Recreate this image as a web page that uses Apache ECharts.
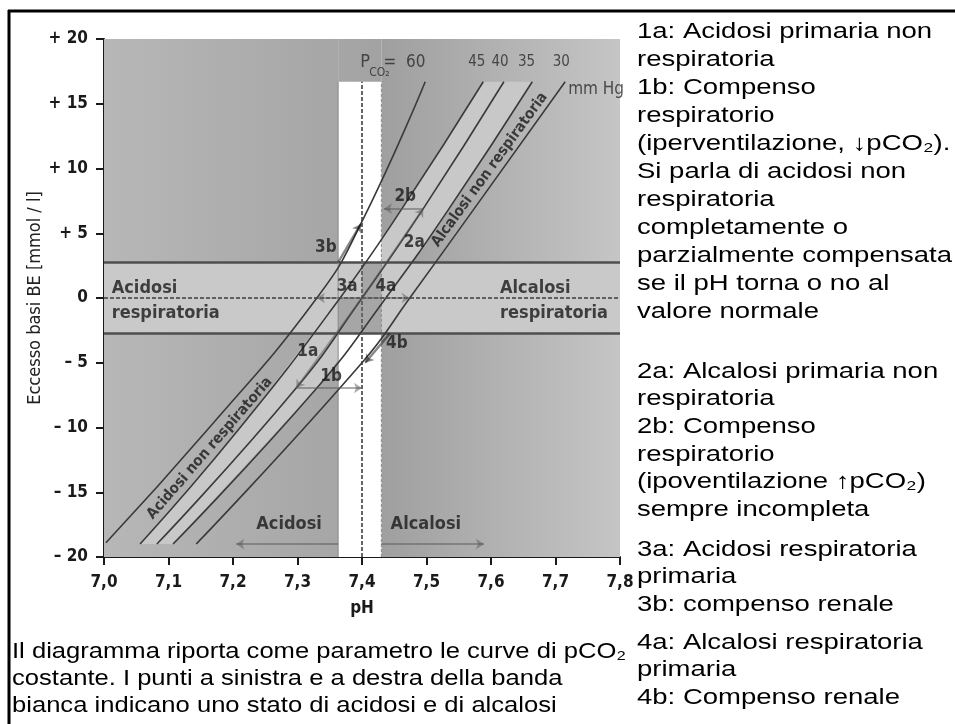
<!DOCTYPE html>
<html>
<head>
<meta charset="utf-8">
<title>Eccesso basi - pH</title>
<script src="https://cdn.jsdelivr.net/npm/echarts@6/dist/echarts.min.js"></script>
<style>
  html, body { margin: 0; padding: 0; background: #fff; }
  #chart { width: 955px; height: 724px; }
</style>
</head>
<body>
<div id="chart"></div>
<script>
// pCO2 isobars, [pH, BE mmol/l]
const pco2_60 = [[7.003, -18.9], [7.160, -10.2], [7.330, 0], [7.397, 5.6], [7.498, 16.7]];
const pco2_45 = [[7.056, -19.0], [7.208, -10.2], [7.366, 0], [7.462, 6.9], [7.588, 16.7]];
const pco2_40 = [[7.082, -19.0], [7.298, -6.95], [7.400, 0], [7.495, 6.9], [7.620, 16.7]];
const pco2_35 = [[7.107, -19.0], [7.330, -6.95], [7.437, 0], [7.535, 6.9], [7.664, 16.7]];
const pco2_30 = [[7.143, -19.0], [7.400, -5.0], [7.474, 0], [7.574, 6.9], [7.715, 16.7]];

// zones
const whiteBand = [7.363, 7.43];     // pH limits of the white band
const whiteBandTop = 16.7;
const beBand = [-2.75, 2.75];        // normal base excess band
const phNormal = 7.4;

// tick labels
const xTickLabels = ['7,0', '7,1', '7,2', '7,3', '7,4', '7,5', '7,6', '7,7', '7,8'];
const yTickLabels = ['\u2013 20', '\u2013 15', '\u2013 10', '\u2013 5', '0', '+ 5', '+ 10', '+ 15', '+ 20'];

// arrows: from, to, dark
const arrows = [
  [[7.400, 0], [7.330, 0], false],          // 3a
  [[7.400, 0], [7.474, 0], false],          // 4a
  [[7.400, 0], [7.298, -6.95], false],      // 1a
  [[7.298, -6.95], [7.400, -6.95], false],  // 1b
  [[7.400, 0], [7.495, 6.9], false],        // 2a
  [[7.495, 6.9], [7.434, 6.9], false],      // 2b
  [[7.363, 2.75], [7.398, 5.7], true],      // 3b
  [[7.443, -2.75], [7.405, -5.0], true],    // 4b
  [[7.363, -19.0], [7.205, -19.0], false],  // Acidosi
  [[7.430, -19.0], [7.589, -19.0], false]   // Alcalosi
];

// labels in the plot: [pH, BE, text]
const stepLabels = [
  [7.467, 7.8, '2b'], [7.481, 4.3, '2a'], [7.344, 3.9, '3b'], [7.377, 0.85, '3a'],
  [7.437, 0.85, '4a'], [7.454, -3.55, '4b'], [7.316, -4.1, '1a'], [7.352, -6.1, '1b']
];
const zoneLabels = [
  [7.012, 0.77, 'Acidosi'], [7.012, -1.16, 'respiratoria'],
  [7.614, 0.77, 'Alcalosi'], [7.614, -1.16, 'respiratoria']
];
const bottomLabels = [[7.287, -17.5, 'Acidosi'], [7.499, -17.5, 'Alcalosi']];
const isoLabels = [[7.578, 18.2, '45'], [7.614, 18.2, '40'], [7.655, 18.2, '35'], [7.709, 18.2, '30']];
const slantLabels = [[7.598, 9.9, 'Alcalosi non respiratoria', 54], [7.164, -11.6, 'Acidosi non respiratoria', 49]];

const noteBlocks = [
  { top: 18, lh: 28, lines: ['1a: Acidosi primaria non', 'respiratoria', '1b: Compenso', 'respiratorio',
    '(iperventilazione, \u2193pCO\u2082).', 'Si parla di acidosi non', 'respiratoria', 'completamente o',
    'parzialmente compensata', 'se il pH torna o no al', 'valore normale'] },
  { top: 358, lh: 27.6, lines: ['2a: Alcalosi primaria non', 'respiratoria', '2b: Compenso', 'respiratorio',
    '(ipoventilazione \u2191pCO\u2082)', 'sempre incompleta'] },
  { top: 536, lh: 27.5, lines: ['3a: Acidosi respiratoria', 'primaria', '3b: compenso renale'] },
  { top: 629, lh: 27.5, lines: ['4a: Alcalosi respiratoria', 'primaria', '4b: Compenso renale'] }
];
const captionLines = ['Il diagramma riporta come parametro le curve di pCO\u2082',
  'costante. I punti a sinistra e a destra della banda',
  'bianca indicano uno stato di acidosi e di alcalosi'];

const CF = "'Liberation Sans Narrow', 'DejaVu Sans Condensed', 'Roboto Condensed', Roboto, sans-serif";
const TF = "'Liberation Sans', Arial, sans-serif";
const textFont = '22px ' + TF;

function measure(str, font) {
  const ctx = document.createElement('canvas').getContext('2d');
  ctx.font = font;
  return ctx.measureText(str).width;
}
const sx = 315 / measure('parzialmente compensata', textFont);

const chart = echarts.init(document.getElementById('chart'));

function grad(c0, c1) {
  return new echarts.graphic.LinearGradient(0, 0, 1, 0, [{ offset: 0, color: c0 }, { offset: 1, color: c1 }]);
}

function renderFills(params, api) {
  const rect = (x0, y0, x1, y1, fill) => {
    const a = api.coord([x0, y1]), b = api.coord([x1, y0]);
    return { type: 'rect', shape: { x: a[0], y: a[1], width: b[0] - a[0], height: b[1] - a[1] }, style: { fill } };
  };
  const strip = pco2_45.concat(pco2_35.slice().reverse()).map(p => api.coord(p));
  return {
    type: 'group',
    children: [
      rect(7.0, -20, whiteBand[0], 20, grad('#b7b7b7', '#a6a6a6')),
      rect(whiteBand[0], -20, whiteBand[1], 20, grad('#a6a6a6', '#a2a2a2')),
      rect(whiteBand[1], -20, 7.8, 20, grad('#9f9f9f', '#c5c5c5')),
      { type: 'polygon', shape: { points: strip }, style: { fill: '#c8c8c8' } },
      rect(7.0, beBand[0], 7.8, beBand[1], '#c9c9c9'),
      rect(whiteBand[0], beBand[1], whiteBand[1], whiteBandTop, '#ffffff'),
      rect(whiteBand[0], -20, whiteBand[1], beBand[0], '#ffffff'),
      rect(phNormal, beBand[0], whiteBand[1], beBand[1], '#a6a6a6'),
      rect(whiteBand[0], beBand[0], phNormal, 0, '#a6a6a6')
    ]
  };
}

function refLine(points, color, width, type) {
  return { type: 'line', data: points, symbol: 'none', silent: true, z: 6,
    lineStyle: { color, width, type: type || 'solid' } };
}

function isoLine(points) {
  return { type: 'line', data: points, symbol: 'none', smooth: 0.5, silent: true, z: 7,
    lineStyle: { color: '#3a3a3a', width: 1.6 } };
}

function labelSeries(items, label, z) {
  return {
    type: 'scatter', symbolSize: 0, silent: true, z: z || 10,
    data: items.map(d => ({ value: [d[0], d[1]], label: Object.assign({ formatter: d[2] }, d[3] != null ? { rotate: d[3] } : {}) })),
    label: Object.assign({ show: true, position: 'inside', color: '#1a1a1a', fontFamily: CF }, label)
  };
}

const graphics = [
  { type: 'line', shape: { x1: 8, y1: 11, x2: 955, y2: 11 }, style: { stroke: '#000', lineWidth: 3 } },
  { type: 'line', shape: { x1: 9, y1: 10, x2: 9, y2: 724 }, style: { stroke: '#000', lineWidth: 3 } }
];
noteBlocks.forEach(b => {
  graphics.push({ type: 'text', x: 637, y: b.top, scaleX: sx,
    style: { text: b.lines.join('\n'), font: textFont, fill: '#000', lineHeight: b.lh,
      align: 'left', verticalAlign: 'top', textAlign: 'left', textVerticalAlign: 'top' } });
});
graphics.push({ type: 'text', x: 12, y: 638, scaleX: sx * 0.93,
  style: { text: captionLines.join('\n'), font: textFont, fill: '#000', lineHeight: 27,
    align: 'left', verticalAlign: 'top', textAlign: 'left', textVerticalAlign: 'top' } });

const option = {
  animation: false,
  backgroundColor: '#ffffff',
  grid: { left: 104, top: 39, width: 516, height: 518 },
  xAxis: {
    type: 'value', min: 7.0, max: 7.8, interval: 0.1,
    axisLine: { show: true, onZero: false, lineStyle: { color: '#1a1a1a', width: 2 } },
    axisTick: { show: true, length: 8, lineStyle: { color: '#1a1a1a', width: 2 } },
    splitLine: { show: false },
    axisLabel: { margin: 17, fontSize: 17, fontWeight: 'bold', color: '#1a1a1a', fontFamily: CF,
      formatter: v => xTickLabels[Math.round((v - 7.0) * 10)] },
    name: 'pH', nameLocation: 'middle', nameGap: 43,
    nameTextStyle: { fontSize: 17, fontWeight: 'bold', color: '#1a1a1a', fontFamily: CF }
  },
  yAxis: {
    type: 'value', min: -20, max: 20, interval: 5,
    axisLine: { show: true, onZero: false, lineStyle: { color: '#1a1a1a', width: 2 } },
    axisTick: { show: true, length: 8, lineStyle: { color: '#1a1a1a', width: 2 } },
    splitLine: { show: false },
    axisLabel: { margin: 16, fontSize: 17, fontWeight: 'bold', color: '#1a1a1a', fontFamily: CF,
      formatter: v => yTickLabels[Math.round((v + 20) / 5)] },
    name: 'Eccesso basi BE [mmol / l]', nameLocation: 'middle', nameGap: 60, nameRotate: 90,
    nameMoveOverlap: false,
    nameTextStyle: { fontSize: 18, color: '#222', fontFamily: CF }
  },
  graphic: graphics,
  series: [
    { type: 'custom', z: 1, silent: true, data: [[7.4, 0]], renderItem: renderFills },
    refLine([[7.0, beBand[1]], [7.8, beBand[1]]], '#4e4e4e', 2.5),
    refLine([[7.0, beBand[0]], [7.8, beBand[0]]], '#4e4e4e', 2.5),
    refLine([[7.0, 0], [7.8, 0]], '#5e5e5e', 2, [4, 2]),
    refLine([[phNormal, -20], [phNormal, whiteBandTop]], '#666666', 2, [4, 2]),
    refLine([[whiteBand[0], -20], [whiteBand[0], whiteBandTop]], '#8a8a8a', 1),
    refLine([[whiteBand[1], -20], [whiteBand[1], whiteBandTop]], '#8a8a8a', 1, [3, 2]),
    isoLine(pco2_60), isoLine(pco2_45), isoLine(pco2_40), isoLine(pco2_35), isoLine(pco2_30),
    {
      type: 'lines', coordinateSystem: 'cartesian2d', silent: true, z: 8,
      symbol: ['none', 'arrow'], symbolSize: 8,
      data: arrows.map(a => ({ coords: [a[0], a[1]],
        lineStyle: { color: a[2] ? '#111' : '#5a5a5a', width: a[2] ? 2.4 : 2 } }))
    },
    labelSeries(stepLabels, { fontSize: 17, fontWeight: 'bold' }),
    labelSeries(zoneLabels, { fontSize: 18, fontWeight: 'bold', align: 'left' }),
    labelSeries(bottomLabels, { fontSize: 18, fontWeight: 'bold' }),
    labelSeries(isoLabels, { fontSize: 15, color: '#2a2a2a' }),
    labelSeries([[7.763, 16.06, 'mm Hg']], { fontSize: 17, color: '#2a2a2a' }),
    labelSeries([[7.405, 18.2, 'P']], { fontSize: 18, color: '#2a2a2a' }),
    labelSeries([[7.427, 17.4, 'CO\u2082']], { fontSize: 12, color: '#2a2a2a' }),
    labelSeries([[7.466, 18.2, '=  60']], { fontSize: 17, color: '#2a2a2a' }),
    labelSeries(slantLabels, { fontSize: 15, fontWeight: 'bold' })
  ]
};

chart.setOption(option);
</script>
</body>
</html>
